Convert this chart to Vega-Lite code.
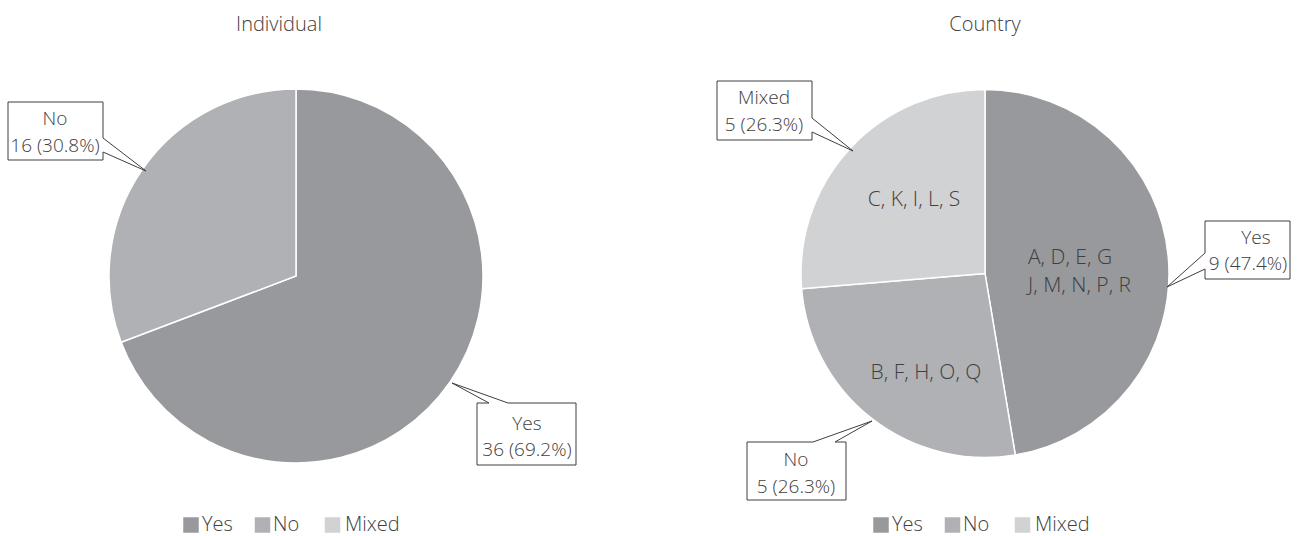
{
  "$schema": "https://vega.github.io/schema/vega-lite/v6.json",
  "width": 1299,
  "height": 536,
  "autosize": {"type": "fit", "contains": "padding"},
  "padding": 0,
  "background": "white",
  "config": {"view": {"stroke": null}, "font": "Open Sans"},
  "datasets": {
    "pie": [
      {"chart": "Individual", "answer": "Yes", "n": 36, "ord": 1},
      {"chart": "Individual", "answer": "No", "n": 16, "ord": 2},
      {"chart": "Country", "answer": "Yes", "n": 9, "ord": 1},
      {"chart": "Country", "answer": "No", "n": 5, "ord": 2},
      {"chart": "Country", "answer": "Mixed", "n": 5, "ord": 3}
    ],
    "callouts": [
      {"id": "LNo", "s": 1, "px": 8, "py": 102}, {"id": "LNo", "s": 2, "px": 103, "py": 102}, {"id": "LNo", "s": 3, "px": 103, "py": 138}, {"id": "LNo", "s": 4, "px": 146, "py": 171}, {"id": "LNo", "s": 5, "px": 103, "py": 152}, {"id": "LNo", "s": 6, "px": 103, "py": 160}, {"id": "LNo", "s": 7, "px": 8, "py": 160}, {"id": "LNo", "s": 8, "px": 8, "py": 102},
      {"id": "LYes", "s": 1, "px": 477, "py": 403}, {"id": "LYes", "s": 2, "px": 489, "py": 403}, {"id": "LYes", "s": 3, "px": 452, "py": 383}, {"id": "LYes", "s": 4, "px": 508, "py": 403}, {"id": "LYes", "s": 5, "px": 576, "py": 403}, {"id": "LYes", "s": 6, "px": 576, "py": 465}, {"id": "LYes", "s": 7, "px": 477, "py": 465}, {"id": "LYes", "s": 8, "px": 477, "py": 403},
      {"id": "RMixed", "s": 1, "px": 717, "py": 81}, {"id": "RMixed", "s": 2, "px": 812, "py": 81}, {"id": "RMixed", "s": 3, "px": 812, "py": 118}, {"id": "RMixed", "s": 4, "px": 853, "py": 151}, {"id": "RMixed", "s": 5, "px": 812, "py": 132}, {"id": "RMixed", "s": 6, "px": 812, "py": 140}, {"id": "RMixed", "s": 7, "px": 717, "py": 140}, {"id": "RMixed", "s": 8, "px": 717, "py": 81},
      {"id": "RYes", "s": 1, "px": 1205, "py": 221}, {"id": "RYes", "s": 2, "px": 1290, "py": 221}, {"id": "RYes", "s": 3, "px": 1290, "py": 279}, {"id": "RYes", "s": 4, "px": 1205, "py": 279}, {"id": "RYes", "s": 5, "px": 1205, "py": 269}, {"id": "RYes", "s": 6, "px": 1167, "py": 287}, {"id": "RYes", "s": 7, "px": 1205, "py": 253}, {"id": "RYes", "s": 8, "px": 1205, "py": 221},
      {"id": "RNo", "s": 1, "px": 747, "py": 442}, {"id": "RNo", "s": 2, "px": 813, "py": 442}, {"id": "RNo", "s": 3, "px": 872, "py": 421}, {"id": "RNo", "s": 4, "px": 835, "py": 442}, {"id": "RNo", "s": 5, "px": 846, "py": 442}, {"id": "RNo", "s": 6, "px": 846, "py": 500}, {"id": "RNo", "s": 7, "px": 747, "py": 500}, {"id": "RNo", "s": 8, "px": 747, "py": 442}
    ],
    "labels": [
      {"t": "No", "px": 55, "py": 119},
      {"t": "16 (30.8%)", "px": 55, "py": 146},
      {"t": "Yes", "px": 527, "py": 424},
      {"t": "36 (69.2%)", "px": 527, "py": 450},
      {"t": "Mixed", "px": 764, "py": 98},
      {"t": "5 (26.3%)", "px": 764, "py": 125},
      {"t": "Yes", "px": 1256, "py": 238},
      {"t": "9 (47.4%)", "px": 1248, "py": 264},
      {"t": "No", "px": 796, "py": 460},
      {"t": "5 (26.3%)", "px": 796, "py": 487}
    ],
    "titles": [
      {"t": "Individual", "px": 279, "py": 25},
      {"t": "Country", "px": 985, "py": 25}
    ],
    "inner": [
      {"t": "C, K, I, L, S", "px": 914, "py": 200},
      {"t": "B, F, H, O, Q", "px": 926, "py": 373}
    ],
    "leftlabels": [
      {"t": "A, D, E, G", "px": 1028, "py": 258},
      {"t": "J, M, N, P, R", "px": 1028, "py": 286}
    ],
    "legend": [
      {"answer": "Yes", "px": 191, "py": 525, "tx": 202},
      {"answer": "No", "px": 262.5, "py": 525, "tx": 273},
      {"answer": "Mixed", "px": 332.5, "py": 525, "tx": 345},
      {"answer": "Yes", "px": 881, "py": 525, "tx": 892},
      {"answer": "No", "px": 952.5, "py": 525, "tx": 963},
      {"answer": "Mixed", "px": 1022.5, "py": 525, "tx": 1035}
    ]
  },
  "layer": [
    {
      "data": {"name": "pie"},
      "transform": [{"filter": "datum.chart === 'Individual'"}],
      "mark": {"type": "arc", "outerRadius": 187, "stroke": "white", "strokeWidth": 1.5},
      "encoding": {
        "x": {"datum": 296, "type": "quantitative", "scale": {"domain": [0, 1299], "nice": false, "zero": false}, "axis": null},
        "y": {"datum": 276, "type": "quantitative", "scale": {"domain": [0, 536], "nice": false, "zero": false, "reverse": true}, "axis": null},
        "theta": {"field": "n", "type": "quantitative", "stack": "normalize"},
        "order": {"field": "ord", "type": "quantitative"},
        "color": {"field": "answer", "type": "nominal", "scale": {"domain": ["Yes", "No", "Mixed"], "range": ["#98999d", "#b0b1b4", "#d1d2d4"]}, "legend": null}
      }
    },
    {
      "data": {"name": "pie"},
      "transform": [{"filter": "datum.chart === 'Country'"}],
      "mark": {"type": "arc", "outerRadius": 184, "stroke": "white", "strokeWidth": 1.5},
      "encoding": {
        "x": {"datum": 985, "type": "quantitative"},
        "y": {"datum": 273.5, "type": "quantitative"},
        "theta": {"field": "n", "type": "quantitative", "stack": "normalize"},
        "order": {"field": "ord", "type": "quantitative"},
        "color": {"field": "answer", "type": "nominal", "legend": null}
      }
    },
    {
      "data": {"name": "callouts"},
      "mark": {"type": "line", "color": "#3f3f3f", "strokeWidth": 1, "interpolate": "linear"},
      "encoding": {
        "x": {"field": "px", "type": "quantitative"},
        "y": {"field": "py", "type": "quantitative"},
        "detail": {"field": "id", "type": "nominal"},
        "order": {"field": "s", "type": "quantitative"}
      }
    },
    {
      "data": {"name": "labels"},
      "mark": {"type": "text", "fontSize": 19, "fontWeight": 300, "color": "#404040", "align": "center", "baseline": "middle", "font": "Open Sans"},
      "encoding": {
        "x": {"field": "px", "type": "quantitative"},
        "y": {"field": "py", "type": "quantitative"},
        "text": {"field": "t", "type": "nominal"}
      }
    },
    {
      "data": {"name": "titles"},
      "mark": {"type": "text", "fontSize": 20, "fontWeight": 300, "color": "#404040", "align": "center", "baseline": "middle", "font": "Open Sans"},
      "encoding": {
        "x": {"field": "px", "type": "quantitative"},
        "y": {"field": "py", "type": "quantitative"},
        "text": {"field": "t", "type": "nominal"}
      }
    },
    {
      "data": {"name": "inner"},
      "mark": {"type": "text", "fontSize": 21, "fontWeight": 300, "color": "#404040", "align": "center", "baseline": "middle", "font": "Open Sans"},
      "encoding": {
        "x": {"field": "px", "type": "quantitative"},
        "y": {"field": "py", "type": "quantitative"},
        "text": {"field": "t", "type": "nominal"}
      }
    },
    {
      "data": {"name": "leftlabels"},
      "mark": {"type": "text", "fontSize": 21, "fontWeight": 300, "color": "#404040", "align": "left", "baseline": "middle", "font": "Open Sans"},
      "encoding": {
        "x": {"field": "px", "type": "quantitative"},
        "y": {"field": "py", "type": "quantitative"},
        "text": {"field": "t", "type": "nominal"}
      }
    },
    {
      "data": {"name": "legend"},
      "mark": {"type": "point", "shape": "square", "filled": true, "size": 240, "opacity": 1},
      "encoding": {
        "x": {"field": "px", "type": "quantitative"},
        "y": {"field": "py", "type": "quantitative"},
        "color": {"field": "answer", "type": "nominal", "legend": null}
      }
    },
    {
      "data": {"name": "legend"},
      "mark": {"type": "text", "fontSize": 20, "fontWeight": 300, "color": "#404040", "align": "left", "baseline": "middle", "font": "Open Sans"},
      "encoding": {
        "x": {"field": "tx", "type": "quantitative"},
        "y": {"field": "py", "type": "quantitative"},
        "text": {"field": "answer", "type": "nominal"}
      }
    }
  ]
}
